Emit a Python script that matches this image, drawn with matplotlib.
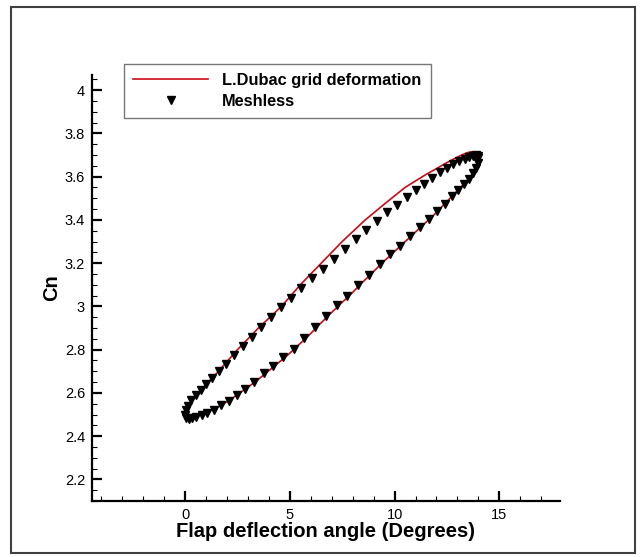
import numpy as np
import matplotlib
matplotlib.use("Agg")
import matplotlib.pyplot as plt
from matplotlib.patches import Rectangle
from matplotlib.ticker import MultipleLocator

plt.rcParams['font.family'] = ['Liberation Sans', 'DejaVu Sans']

# red curve: L.Dubac grid deformation (up stroke then down stroke)
dubac_x = [0.00, 0.05, 0.20, 0.40, 0.63, 1.00, 1.50, 2.00, 2.50, 3.00, 3.50, 4.05, 4.60, 5.05,
           5.50, 6.00, 6.50, 7.00, 7.50, 8.05, 8.60, 9.10, 9.60, 10.05, 10.50, 11.00, 11.50,
           12.00, 12.50, 12.90, 13.20, 13.45, 13.65, 13.80, 13.92, 13.98,
           13.97, 13.88, 13.74, 13.55, 13.30, 13.00, 12.60, 12.20, 11.80, 11.40, 10.90, 10.40,
           9.90, 9.40, 8.90, 8.40, 7.90, 7.40, 6.90, 6.40, 5.90, 5.40, 4.90, 4.40, 3.90, 3.40,
           2.90, 2.50, 2.10, 1.70, 1.30, 0.95, 0.65, 0.40, 0.20, 0.07, 0.00]
dubac_y = [2.495, 2.52, 2.55, 2.575, 2.60, 2.64, 2.69, 2.745, 2.80, 2.85, 2.90, 2.95, 3.00, 3.05,
           3.10, 3.15, 3.20, 3.25, 3.30, 3.35, 3.40, 3.44, 3.48, 3.515, 3.55, 3.58, 3.61,
           3.637, 3.665, 3.685, 3.70, 3.71, 3.715, 3.713, 3.705, 3.69,
           3.665, 3.64, 3.615, 3.59, 3.565, 3.535, 3.495, 3.455, 3.415, 3.38, 3.335, 3.29,
           3.245, 3.20, 3.152, 3.105, 3.055, 3.01, 2.963, 2.915, 2.865, 2.82, 2.775, 2.735, 2.695, 2.655,
           2.62, 2.592, 2.565, 2.542, 2.522, 2.507, 2.495, 2.487, 2.483, 2.485, 2.495]

# black triangles: Meshless
mesh_x = [0.00, 0.05, 0.15, 0.30, 0.50, 0.75, 1.00, 1.30, 1.62, 1.97, 2.35, 2.75, 3.18, 3.62,
          4.08, 4.56, 5.05, 5.55, 6.06, 6.58, 7.10, 7.62, 8.14, 8.65, 9.15, 9.64, 10.11, 10.57,
          11.00, 11.41, 11.80, 12.16, 12.50, 12.81, 13.09, 13.34, 13.55, 13.74, 13.88, 13.97,
          14.00, 13.97, 13.88, 13.74, 13.55, 13.32, 13.05, 12.74, 12.40, 12.03, 11.63, 11.20,
          10.75, 10.28, 9.80, 9.30, 8.79, 8.27, 7.75, 7.23, 6.71, 6.19, 5.68, 5.18, 4.69, 4.21,
          3.75, 3.30, 2.87, 2.46, 2.07, 1.71, 1.37, 1.06, 0.78, 0.53, 0.32, 0.16, 0.05]
mesh_y = [2.50, 2.52, 2.54, 2.565, 2.59, 2.615, 2.64, 2.67, 2.70, 2.735, 2.775, 2.815, 2.86, 2.905,
          2.95, 2.995, 3.04, 3.085, 3.13, 3.175, 3.22, 3.265, 3.31, 3.355, 3.395, 3.435, 3.47, 3.505,
          3.54, 3.568, 3.595, 3.62, 3.64, 3.658, 3.672, 3.683, 3.692, 3.697, 3.70, 3.695,
          3.685, 3.665, 3.64, 3.615, 3.59, 3.565, 3.54, 3.51, 3.475, 3.44, 3.405, 3.365,
          3.325, 3.28, 3.24, 3.195, 3.147, 3.10, 3.05, 3.005, 2.955, 2.905, 2.855, 2.805, 2.765, 2.725,
          2.69, 2.652, 2.618, 2.588, 2.562, 2.542, 2.523, 2.508, 2.497, 2.489, 2.483, 2.48, 2.485]

fig = plt.figure(figsize=(6.41, 5.57), dpi=100)
fig.patches.append(Rectangle((11 / 641, 1 - 553 / 557), 624 / 641, 546 / 557,
                             transform=fig.transFigure, fill=False, ec='#404040', lw=1.5))
ax = fig.add_axes([92 / 641, 1 - 501 / 557, 468 / 641, 426 / 557])

ax.plot(dubac_x, dubac_y, color='#cc0a14', lw=1.2, label='L.Dubac grid deformation')
ax.plot(mesh_x, mesh_y, ls='none', marker='v', ms=5.5, color='black', label='Meshless')

ax.set_xlim(-4.45, 17.9)
ax.set_ylim(2.1, 4.07)
ax.xaxis.set_major_locator(MultipleLocator(5))
ax.xaxis.set_minor_locator(MultipleLocator(1))
ax.yaxis.set_major_locator(MultipleLocator(0.2))
ax.yaxis.set_minor_locator(MultipleLocator(0.05))
ax.yaxis.set_major_formatter(plt.FuncFormatter(lambda v, p: ('%.1f' % v).rstrip('0').rstrip('.')))
ax.spines['top'].set_visible(False)
ax.spines['right'].set_visible(False)
ax.spines['left'].set_linewidth(1.6)
ax.spines['bottom'].set_linewidth(1.6)
ax.tick_params(which='major', direction='in', length=7, width=1.6, labelsize=10.5, pad=5)
ax.tick_params(which='minor', direction='in', length=3.5, width=0.8)

ax.set_xlabel('Flap deflection angle (Degrees)', fontsize=14.5, fontweight='bold', labelpad=0)
ax.set_ylabel('Cn', fontsize=14.5, fontweight='bold', labelpad=3)

leg = ax.legend(loc='upper left', bbox_to_anchor=(124 / 641, 1 - 64 / 557),
                bbox_transform=fig.transFigure, frameon=True, fancybox=False,
                prop={'weight': 'bold', 'size': 11.8}, handlelength=4.6, handletextpad=0.85,
                borderpad=0.55, labelspacing=0.35, borderaxespad=0)
leg.get_frame().set_edgecolor('#555555')
leg.get_frame().set_linewidth(1.0)

fig.savefig('out.png', dpi=100)
